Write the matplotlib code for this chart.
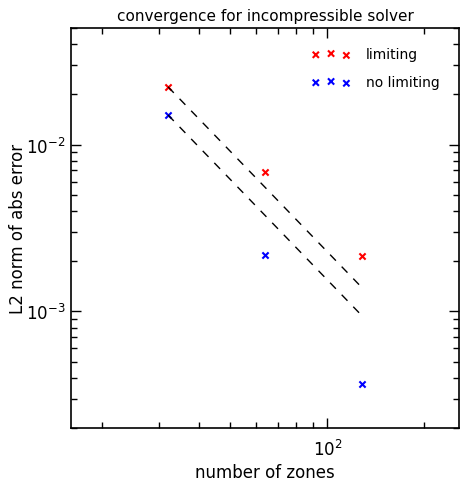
import numpy as np
import matplotlib
matplotlib.use("Agg")
import matplotlib.pyplot as plt

# number of zones and L2 errors
N = np.array([32, 64, 128])
err_limit = np.array([0.0222, 0.00689, 0.00216])
err_nolimit = np.array([0.01506, 0.00218, 0.000369])

fig = plt.figure(figsize=(4.68, 4.89), dpi=100)
ax = fig.add_axes([71/468, 60/489, 388/468, 400/489])

ax.scatter(N, err_limit, marker="x", color="r", s=20, linewidths=1.5, label="limiting")
ax.scatter(N, err_nolimit, marker="x", color="b", s=20, linewidths=1.5, label="no limiting")

# second-order reference lines
ax.plot(N, err_limit[0]*(N[0]/N)**2, color="k", ls="--", dashes=(6, 6), lw=1)
ax.plot(N, err_nolimit[0]*(N[0]/N)**2, color="k", ls="--", dashes=(6, 6), lw=1)

ax.set_xscale("log")
ax.set_yscale("log")
ax.set_xlim(16, 256)
ax.set_ylim(2.e-4, 5.e-2)

for sp in ax.spines.values():
    sp.set_linewidth(1.2)

ax.tick_params(which="both", direction="in", top=True, right=True, labelsize=12, width=1)
ax.tick_params(which="major", length=7)
ax.tick_params(which="minor", length=4)
ax.tick_params(axis="x", which="major", pad=8)
ax.tick_params(axis="y", which="major", pad=4)

ax.set_xlabel("number of zones", fontsize=12, labelpad=3)
ax.set_ylabel("L2 norm of abs error", fontsize=12, labelpad=-1)
ax.set_title("convergence for incompressible solver", fontsize=11)

leg = ax.legend(frameon=False, fontsize=10, scatterpoints=3, loc="upper right",
                borderaxespad=1.0, labelspacing=1.0, handlelength=2.8,
                handletextpad=1.1)

plt.savefig("out.png", dpi=100)
